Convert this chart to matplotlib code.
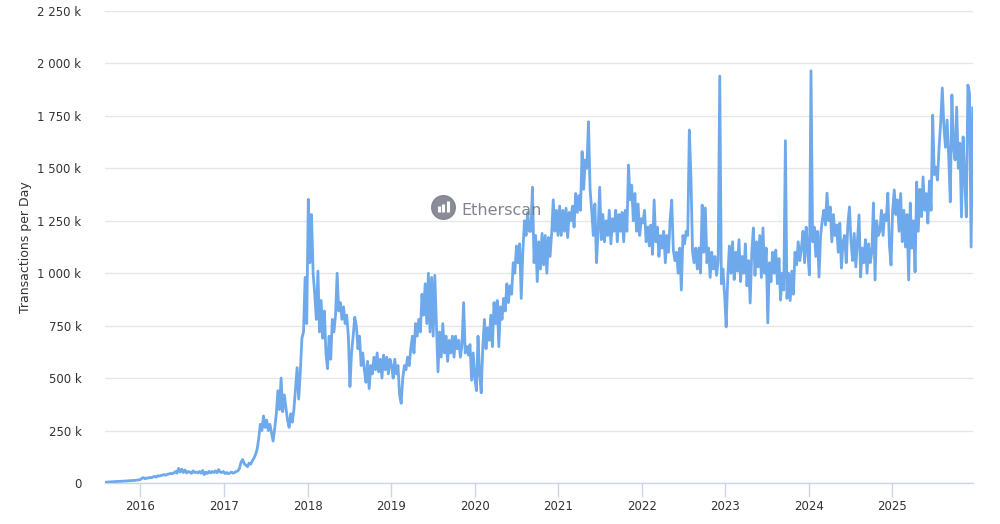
import matplotlib

matplotlib.use("Agg")
import matplotlib.pyplot as plt
import matplotlib.dates as mdates
from matplotlib.ticker import FuncFormatter
import numpy as np
import pandas as pd

# weekly transactions per day (thousands), first week 2015-07-30
tx_2015 = [3, 4, 5, 5, 6, 6, 7, 7, 8, 8, 8, 9, 9, 10, 10, 11, 11, 12, 12, 13,
           14, 15, 16]
tx_2016 = [22, 26, 20, 24, 23, 27, 25, 29, 32, 28, 35, 33, 36, 38, 40, 37, 42,
           43, 46, 44, 48, 55, 47, 70, 52, 66, 50, 62, 48, 55, 52, 46, 58, 50,
           53, 48, 55, 47, 60, 40, 52, 45, 56, 48, 55, 50, 58, 49, 64, 52, 50, 55]
tx_2017 = [45, 50, 44, 48, 52, 47, 50, 55, 58, 70, 100, 112, 92, 85, 78, 95,
           90, 105, 118, 135, 160, 210, 280, 250, 320, 265, 300, 250, 280, 240,
           200, 260, 330, 440, 350, 500, 340, 420, 360, 300, 265, 330, 290, 350,
           450, 550, 400, 530, 690, 720, 980, 760]
tx_2018 = [1352, 1050, 1280, 1000, 900, 780, 1010, 720, 870, 690, 820, 620,
           545, 700, 590, 780, 720, 800, 1000, 820, 860, 780, 840, 760, 800,
           700, 460, 620, 700, 790, 750, 640, 700, 560, 620, 540, 480, 580, 450,
           560, 520, 600, 540, 620, 530, 590, 500, 610, 540, 600, 520, 590]
tx_2019 = [560, 500, 590, 520, 560, 420, 380, 500, 560, 540, 600, 560, 640,
           700, 620, 760, 700, 780, 720, 900, 800, 950, 760, 1000, 720, 980,
           700, 990, 760, 530, 720, 600, 760, 620, 700, 580, 680, 620, 700, 600,
           700, 640, 680, 600, 660, 860, 620, 650, 610, 660, 490, 620]
tx_2020 = [500, 440, 700, 520, 430, 650, 780, 640, 740, 680, 800, 650, 860,
           760, 870, 650, 840, 780, 880, 820, 950, 860, 940, 900, 1050, 1000,
           1130, 1050, 1140, 880, 1100, 1250, 1180, 1290, 1200, 1200, 1410, 1050,
           1180, 960, 1150, 1020, 1190, 1040, 1180, 1000, 1170, 1080, 1190, 1350,
           1200, 1300, 1180]
tx_2021 = [1320, 1180, 1300, 1200, 1310, 1170, 1290, 1250, 1320, 1220, 1380,
           1290, 1370, 1300, 1580, 1400, 1540, 1500, 1722, 1400, 1300, 1180,
           1330, 1050, 1200, 1410, 1160, 1280, 1150, 1250, 1180, 1300, 1140,
           1260, 1200, 1300, 1150, 1280, 1200, 1290, 1150, 1300, 1200, 1516,
           1350, 1420, 1250, 1380, 1200, 1330, 1180, 1260]
tx_2022 = [1240, 1300, 1150, 1220, 1130, 1230, 1090, 1349, 1150, 1220, 1080,
           1180, 1120, 1200, 1050, 1180, 1100, 1254, 1349, 1110, 1060, 1100,
           1000, 1120, 920, 1180, 1140, 1200, 1180, 1683, 1459, 1100, 1050, 1120,
           1020, 1120, 1001, 1325, 1100, 1311, 1050, 1120, 980, 1100, 1020, 1080,
           990, 1060, 1940, 950, 1020, 900]
tx_2023 = [744, 980, 1130, 1000, 1150, 970, 1100, 1010, 1160, 960, 1080, 1000,
           1140, 940, 1060, 858, 1100, 1216, 990, 1150, 1030, 1180, 980, 1216,
           1000, 1120, 763, 1050, 960, 1100, 1000, 1110, 950, 1070, 872, 1000,
           920, 1632, 880, 1000, 870, 1010, 900, 1100, 1040, 1150, 1060, 1120,
           1200, 1050, 1220, 1100]
tx_2024 = [992, 1965, 1150, 1220, 1080, 1200, 982, 1180, 1250, 1300, 1230,
           1382, 1250, 1316, 1150, 1280, 1180, 1230, 1100, 1239, 1025, 1150,
           1180, 1050, 1230, 1316, 1150, 1060, 1190, 1030, 1150, 1278, 982, 1120,
           1050, 1160, 1000, 1140, 1050, 1100, 1335, 968, 1250, 1180, 1200, 1300,
           1180, 1280, 1250, 1382, 1130, 1039]
tx_2025 = [1300, 1397, 1280, 1350, 1200, 1380, 1150, 1300, 1125, 1280, 968,
           1335, 1120, 1250, 1006, 1435, 1200, 1400, 1270, 1459, 1300, 1380,
           1239, 1440, 1300, 1754, 1470, 1506, 1444, 1600, 1720, 1883, 1700,
           1600, 1730, 1560, 1340, 1850, 1600, 1540, 1792, 1500, 1620, 1268,
           1650, 1450, 1268, 1897, 1859, 1125, 1788]

y_ticks = [0, 250, 500, 750, 1000, 1250, 1500, 1750, 2000, 2250]
x_years = list(range(2016, 2026))

tx = np.array(tx_2015 + tx_2016 + tx_2017 + tx_2018 + tx_2019 + tx_2020
              + tx_2021 + tx_2022 + tx_2023 + tx_2024 + tx_2025)
dates = pd.date_range("2015-07-30", periods=len(tx), freq="7D")

line_c = "#6ea9eb"
grid_c = "#e6e6e6"
axis_c = "#ccd6eb"
text_c = "#333333"

fig = plt.figure(figsize=(10, 5.24), dpi=100)
ax = fig.add_axes([0.105, 0.0782, 0.8677, 0.9008])

ax.plot(dates, tx, color=line_c, lw=2.0, solid_joinstyle="round", zorder=3)

ax.set_xlim(dates[0], dates[-1])
ax.set_ylim(0, 2250)
ax.set_yticks(y_ticks)
ax.yaxis.set_major_formatter(
    FuncFormatter(lambda v, p: "0" if v == 0 else f"{int(v):,} k".replace(",", " "))
)
ax.set_xticks([pd.Timestamp(f"{y}-01-01") for y in x_years])
ax.xaxis.set_major_formatter(mdates.DateFormatter("%Y"))

ax.grid(axis="y", color=grid_c, lw=1)
ax.set_axisbelow(True)
for s in ["top", "right", "left"]:
    ax.spines[s].set_visible(False)
ax.spines["bottom"].set_color(axis_c)
ax.spines["bottom"].set_linewidth(1)

ax.tick_params(axis="y", length=0, pad=17, labelsize=8.5, labelcolor=text_c)
ax.tick_params(axis="x", length=10, width=1, color=axis_c, pad=2,
               labelsize=8.5, labelcolor=text_c)

ax.set_ylabel("Transactions per Day", fontsize=9, color=text_c, labelpad=4)

# watermark: round logo with three bars, then the name
tf = fig.transFigure
ax.plot([0.4433], [0.605], marker="o", ms=17, color="#7d818c", alpha=0.9,
        transform=tf, clip_on=False, zorder=5)
for i, h in enumerate([0.010, 0.015, 0.020]):
    ax.plot([0.4385 + i * 0.0048] * 2, [0.596, 0.596 + h], color="white",
            lw=2.2, solid_capstyle="butt", transform=tf, clip_on=False, zorder=6)
fig.text(0.461, 0.598, "Etherscan", fontsize=11.5, color="#737784",
         alpha=0.9, va="center", ha="left", zorder=6)

fig.savefig("out.png", dpi=100)
